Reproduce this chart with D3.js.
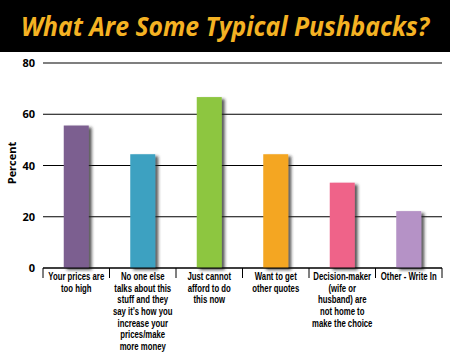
<!DOCTYPE html>
<html><head><meta charset="utf-8">
<script src="https://cdn.jsdelivr.net/npm/d3@7"></script>
<style>body{margin:0;background:#fff}svg{display:block}</style>
</head><body>
<script>
const categories = [
  ["Your prices are","too high"],
  ["No one else","talks about this","stuff and they","say it’s how you","increase your","prices/make","more money"],
  ["Just cannot","afford to do","this now"],
  ["Want to get","other quotes"],
  ["Decision-maker","(wife or","husband) are","not home to","make the choice"],
  ["Other - Write In"]
];
const values = [55.6, 44.4, 66.7, 44.4, 33.3, 22.2];
const colors = ["#7c5e90", "#3ea1c1", "#8dc63f", "#f4a623", "#ef6389", "#b592c6"];
const yTicks = [0, 20, 40, 60, 80];
const title = "What Are Some Typical Pushbacks?";
const yLabel = "Percent";

const W = 450, H = 362;
const svg = d3.select("body").append("svg").attr("width", W).attr("height", H);
const defs = svg.append("defs");
const f = defs.append("filter").attr("id","sh").attr("x","-30%").attr("y","-10%").attr("width","160%").attr("height","130%");
f.append("feDropShadow").attr("dx",3).attr("dy",2).attr("stdDeviation",1.4).attr("flood-color","#222").attr("flood-opacity",0.75);

svg.append("rect").attr("x",0).attr("y",0).attr("width",W).attr("height",52).attr("fill","#000");
svg.append("text").attr("x",W/2).attr("y",36).attr("text-anchor","middle")
  .attr("font-family","'Open Sans', sans-serif").attr("font-weight","bold").attr("font-style","italic")
  .attr("font-size",26).attr("fill","#f4b223").attr("textLength",408).attr("lengthAdjust","spacingAndGlyphs").text(title);

const x = d3.scaleBand().domain(d3.range(categories.length)).range([43, 442]).paddingInner(0).paddingOuter(0);
const y = d3.scaleLinear().domain([0, 80]).range([268, 63]);

const font = "'Liberation Sans', Arial, sans-serif";

// gridlines
svg.append("g").selectAll("line").data(yTicks).join("line")
  .attr("x1",43).attr("x2",442).attr("y1",d=>y(d)).attr("y2",d=>y(d))
  .attr("stroke","#000").attr("stroke-width",1.2);
svg.append("g").selectAll("text").data(yTicks).join("text")
  .attr("x",35).attr("y",d=>y(d)+4).attr("text-anchor","end")
  .attr("font-family","'Open Sans', sans-serif").attr("font-weight","bold").attr("font-size",11).text(d=>d);

svg.append("text").attr("transform","translate(16,163) rotate(-90)").attr("text-anchor","middle")
  .attr("font-family","'Open Sans', sans-serif").attr("font-weight","bold").attr("font-size",11).text(yLabel);

// bars
const bw = 25;
svg.append("g").selectAll("rect").data(values).join("rect")
  .attr("x",(d,i)=>x(i)+x.bandwidth()/2-bw/2).attr("width",bw)
  .attr("y",d=>y(d)).attr("height",d=>y(0)-y(d))
  .attr("fill",(d,i)=>colors[i]).attr("filter","url(#sh)");

// x axis ticks
const ticks = d3.range(categories.length+1).map(i=>43+i*x.bandwidth());
svg.append("g").selectAll("line").data(ticks).join("line")
  .attr("x1",d=>d).attr("x2",d=>d).attr("y1",268).attr("y2",278).attr("stroke","#000").attr("stroke-width",1);
svg.append("line").attr("x1",43).attr("x2",442).attr("y1",268).attr("y2",268).attr("stroke","#000").attr("stroke-width",1.2);

const sx = 0.74;
const lab = svg.append("g").selectAll("text").data(categories).join("text")
  .attr("text-anchor","middle").attr("font-family",font).attr("font-weight","bold").attr("font-size",10.5)
  .attr("transform",(d,i)=>`translate(${x(i)+x.bandwidth()/2},280) scale(${sx},1)`)
  .attr("x",0).attr("y",0);
lab.selectAll("tspan").data(d=>d).join("tspan")
  .attr("x",0).attr("dy",(d,j)=>j===0?0:11.7).text(d=>d);
</script>
</body></html>
